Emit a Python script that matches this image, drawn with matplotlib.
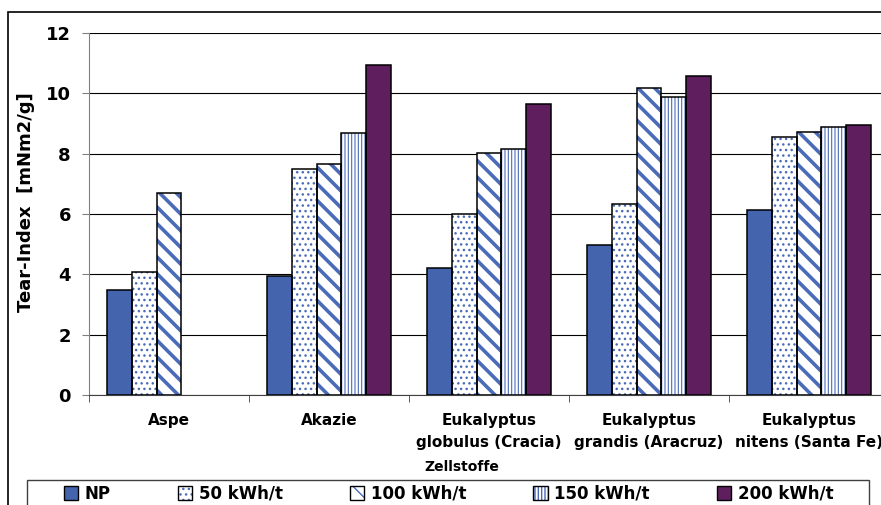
import matplotlib
matplotlib.use('Agg')
import matplotlib.pyplot as plt
from matplotlib.patches import Patch, Rectangle
import numpy as np

woods = ['Aspe', 'Akazie', 'Eukalyptus\nglobulus (Cracia)',
         'Eukalyptus\ngrandis (Aracruz)', 'Eukalyptus\nnitens (Santa Fe)']
series = ['NP', '50 kWh/t', '100 kWh/t', '150 kWh/t', '200 kWh/t']
np_vals = [3.49, 3.96, 4.22, 4.97, 6.14]
kwh50 = [4.09, 7.48, 5.99, 6.33, 8.54]
kwh100 = [6.71, 7.65, 8.02, 10.18, 8.73]
kwh150 = [np.nan, 8.68, 8.16, 9.89, 8.87]
kwh200 = [np.nan, 10.93, 9.64, 10.56, 8.96]
values = [np_vals, kwh50, kwh100, kwh150, kwh200]

blue = '#4464ad'
hblue = '#4a6bb8'
purple = '#5f1f5f'
# face, hatch colour, hatch, hatch linewidth
styles = [
    (blue, blue, None, 1.0),
    ('white', hblue, '...', 1.0),
    ('white', hblue, '\\\\', 2.6),
    ('white', hblue, '|||||', 0.8),
    (purple, purple, None, 1.0),
]

plt.rcParams['font.family'] = 'DejaVu Sans'
plt.rcParams['font.weight'] = 'bold'

W, H = 881, 505
fig = plt.figure(figsize=(W / 100, H / 100), dpi=100)
ax = fig.add_axes([89 / W, (H - 395) / H, 800 / W, 362 / H])

x = np.arange(len(woods))
width = 0.156
handles = []
for i, (vals, (fc, hc, hatch, hlw)) in enumerate(zip(values, styles)):
    pos = x + (i - 2) * width
    with plt.rc_context({'hatch.linewidth': hlw}):
        ax.bar(pos, vals, width, color=fc, edgecolor=hc, linewidth=0,
               hatch=hatch, zorder=2)
    ax.bar(pos, vals, width, fill=False, edgecolor='black', linewidth=1.1, zorder=3)
    with plt.rc_context({'hatch.linewidth': hlw}):
        h1 = Patch(facecolor=fc, edgecolor=hc, linewidth=0, hatch=hatch)
    h2 = Patch(fill=False, edgecolor='black', linewidth=1.0)
    handles.append((h1, h2))

ax.set_xlim(-0.5, 4.5)
ax.set_ylim(0, 12)
ax.set_yticks(range(0, 13, 2))
ax.yaxis.grid(True, color='black', linewidth=0.8, zorder=0)
ax.set_axisbelow(True)
ax.tick_params(axis='y', labelsize=13, length=5, pad=8, color='#808080')
ax.set_xticks(x)
ax.set_xticklabels(woods, fontsize=11, linespacing=1.6)
ax.set_xticks(np.arange(-0.5, 5, 1), minor=True)
ax.tick_params(axis='x', which='major', length=0, pad=13)
ax.tick_params(axis='x', which='minor', length=5, color='#404040')
for s in ['top', 'right']:
    ax.spines[s].set_visible(False)
ax.spines['left'].set_color('#808080')
ax.spines['bottom'].set_color('#404040')

fig.text(26 / W, 1 - 202 / H, 'Tear-Index  [mNm2/g]', rotation=90,
         ha='center', va='center', fontsize=13)
fig.text(462 / W, 1 - 467 / H, 'Zellstoffe', ha='center', va='center', fontsize=10)

fig.legend(handles, series, ncol=5, frameon=False, fontsize=12,
           loc='center left', bbox_to_anchor=(57 / W, 1 - 494 / H),
           handlelength=0.88, handleheight=0.88, handletextpad=0.4,
           columnspacing=4.0, borderaxespad=0)

# outer chart frame and legend box
fig.patches.append(Rectangle((8 / W, -0.1), 1.2, (H - 12) / H + 0.1,
                             transform=fig.transFigure, fill=False,
                             edgecolor='black', linewidth=1.2))
fig.patches.append(Rectangle((27 / W, -0.1), 842 / W, (H - 480) / H + 0.1,
                             transform=fig.transFigure, fill=False,
                             edgecolor='#404040', linewidth=1.0))

fig.savefig('out.png', dpi=100)
